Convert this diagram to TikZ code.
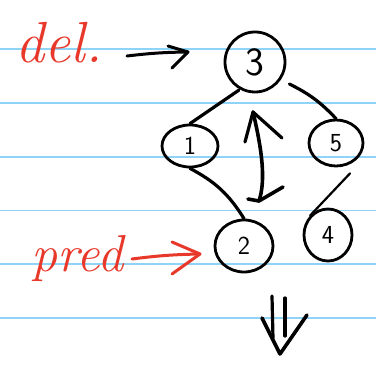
\documentclass[tikz,border=0pt]{standalone}
\usepackage{fontspec}
\usetikzlibrary{arrows.meta,shapes.geometric}
\definecolor{ruled}{HTML}{8FD3F7}
\definecolor{inkred}{HTML}{E8382A}
\tikzset{
  ink/.style={line width=3.2pt,line cap=round,line join=round},
  nd/.style={draw,ellipse,line width=2.8pt,inner sep=0pt,font=\fontsize{26}{26}\selectfont\sffamily},
  rline/.style={ruled,line width=1.4pt},
  lbl/.style={inkred,font=\fontsize{58}{58}\selectfont\itshape}
}
\begin{document}
\begin{tikzpicture}[x=1pt,y=-1pt]
\useasboundingbox (0,0) rectangle (376,371);
\fill[white] (0,0) rectangle (376,371);
\foreach \yy in {49,103,157,210.5,264,318} \draw[rline] (0,\yy) -- (376,\yy);
% nodes
\node[nd,minimum width=60pt,minimum height=60pt,font=\fontsize{40}{40}\selectfont\sffamily] (n3) at (255,62) {3};
\node[nd,minimum width=56pt,minimum height=42pt] (n1) at (190,146) {1};
\node[nd,minimum width=54pt,minimum height=46pt] (n5) at (336,143) {5};
\node[nd,minimum width=58pt,minimum height=52pt] (n2) at (244,246) {2};
\node[nd,minimum width=48pt,minimum height=52pt] (n4) at (328,235) {4};
% edges
\draw[ink] (n3.south west) ++(6,6) coordinate (a1) (a1) -- (n1.north);
\draw[ink] (n3.east) ++(3,22) coordinate (a2) (a2) to[bend left=10] (n5.north);
\draw[ink] (n1.south) to[bend left=15] (n2.north);
\draw[ink,line width=2.2pt] (n5.south) ++(14,6) coordinate (a3) (a3) -- (n4.north west);
% double arrow
\coordinate (up) at (253,112);
\coordinate (dn) at (259,201);
\draw[ink,line width=3.6pt] (up) .. controls (262,150) and (266,180) .. (dn);
\draw[ink] (245,142) -- (up) -- (282,138);
\draw[ink,line width=3.6pt] (248,199) -- (dn) -- (283,187);
% labels
\node[lbl,anchor=base west] (del) at (12,63) {del.};
\coordinate (delend) at (188,52);
\draw[ink,line width=3pt] (127,56) to[bend left=3] (delend);
\draw[ink,line width=3pt] (168,46) -- (delend) -- (172,68);
\node[lbl,anchor=base west,font=\fontsize{52}{52}\selectfont\itshape] (pred) at (28,272) {pred};
\coordinate (predend) at (200,254);
\draw[inkred,line width=3pt,line cap=round] (132,259) to[bend left=3] (predend);
\draw[inkred,line width=3pt,line cap=round,line join=round] (172,242) -- (predend) -- (172,274);
% down arrow
\draw[ink] (272,296) -- (273,338);
\draw[ink] (285,298) -- (285,336);
\draw[ink,line width=3.6pt] (262,318) -- (280,354) -- (307,315);
\end{tikzpicture}
\end{document}
